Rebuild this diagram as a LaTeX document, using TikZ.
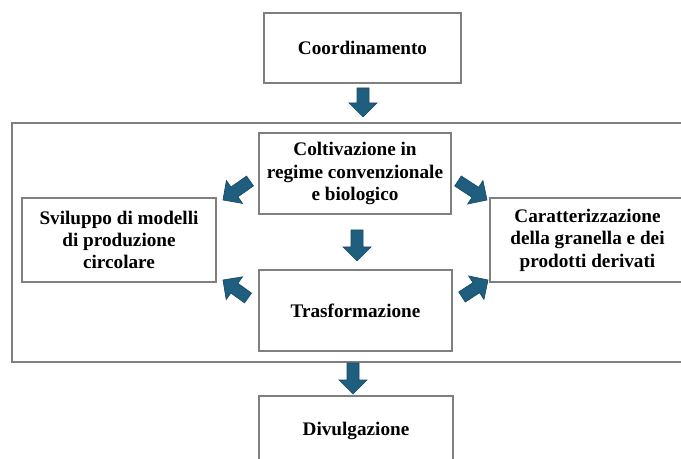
\documentclass[tikz,border=0pt]{standalone}
\usepackage{fontspec}
\setmainfont{Liberation Serif}
\usetikzlibrary{calc}

\definecolor{arrowblue}{HTML}{1F5E7E}
\definecolor{arrowedge}{HTML}{184B65}
\definecolor{boxgrey}{HTML}{7F7F7F}

\tikzset{
  box/.style={draw=boxgrey, line width=1pt, fill=white, align=center,
    inner sep=0pt, font=\bfseries\fontsize{14.4}{16.8}\selectfont},
  frame/.style={draw=boxgrey, line width=1.4pt},
  arrowshape/.style={fill=arrowblue, draw=arrowedge, line width=0.5pt, line join=miter},
}

% Block arrow from coordinate #1 to coordinate #2
% (shaft 9pt wide, head 21pt wide and 10.5pt long)
\newcommand\blockarrow[2]{%
  \path ($(#2)!10.5pt!(#1)$) coordinate (#1-h);
  \draw[arrowshape]
    ($(#1)!4.5pt!90:(#2)$) -- ($(#1-h)!4.5pt!90:(#2)$) --
    ($(#1-h)!10.5pt!90:(#2)$) -- (#2) --
    ($(#1-h)!10.5pt!-90:(#2)$) -- ($(#1-h)!4.5pt!-90:(#2)$) --
    ($(#1)!4.5pt!-90:(#2)$) -- cycle;}

\begin{document}
\begin{tikzpicture}[x=0.75pt,y=-0.75pt]
\useasboundingbox (0,0) rectangle (681,459);
\clip (0,0) rectangle (681,459);

% surrounding frame of the central stage
\node[frame, minimum width={683*0.75pt}, minimum height={239*0.75pt}] (stage) at (353.5,242.5) {};

% boxes
\node[box, minimum width={197*0.75pt}, minimum height={70*0.75pt}] (coord) at (362.5,48) {Coordinamento};
\node[box, minimum width={192*0.75pt}, minimum height={81*0.75pt}] (colt) at (355,173.5) {Coltivazione in\\regime convenzionale\\e biologico};
\node[box, minimum width={194*0.75pt}, minimum height={84*0.75pt}] (svil) at (119,240) {Sviluppo di modelli\\di produzione\\circolare};
\node[box, minimum width={195*0.75pt}, minimum height={84*0.75pt}] (car) at (587.5,240) {Caratterizzazione\\della granella e dei\\prodotti derivati};
\node[box, minimum width={193*0.75pt}, minimum height={81*0.75pt}] (tras) at (355.5,310.5) {Trasformazione};
\node[box, minimum width={194*0.75pt}, minimum height={70*0.75pt}] (div) at (356,431) {Divulgazione};

% arrow end points
\coordinate (a1s) at (363,88);  \coordinate (a1e) at (363,117);
\coordinate (a2s) at (357,230); \coordinate (a2e) at (357,261);
\coordinate (a3s) at (353,363); \coordinate (a3e) at (353,394);
\coordinate (a4s) at (250,181); \coordinate (a4e) at (223,200);
\coordinate (a5s) at (458,181); \coordinate (a5e) at (487,200);
\coordinate (a6s) at (248,298); \coordinate (a6e) at (223,280);
\coordinate (a7s) at (462,297); \coordinate (a7e) at (488,280);

\blockarrow{a1s}{a1e}
\blockarrow{a2s}{a2e}
\blockarrow{a3s}{a3e}
\blockarrow{a4s}{a4e}
\blockarrow{a5s}{a5e}
\blockarrow{a6s}{a6e}
\blockarrow{a7s}{a7e}
\end{tikzpicture}
\end{document}
